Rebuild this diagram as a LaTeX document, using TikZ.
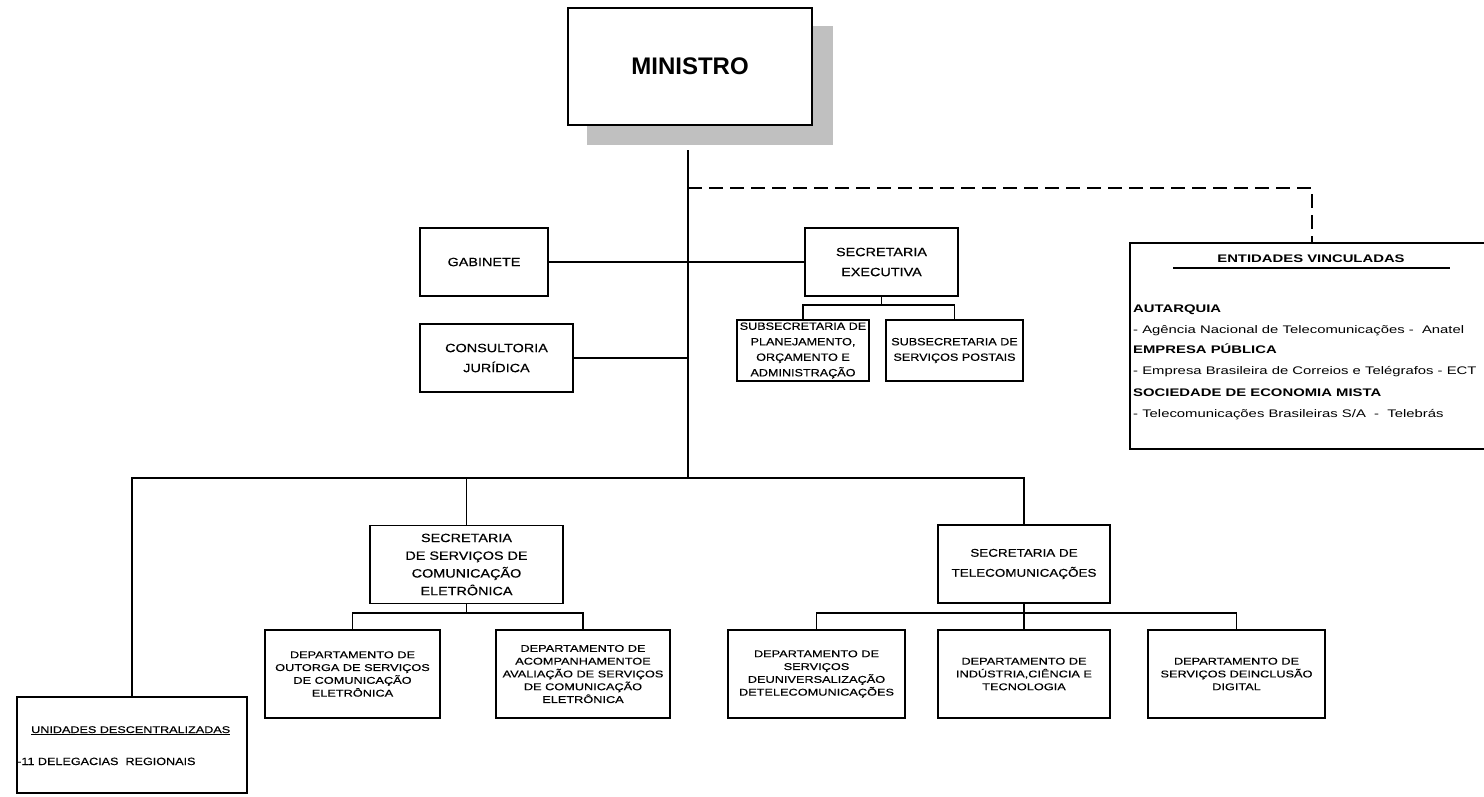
\documentclass[tikz,border=0pt]{standalone}
\usepackage{fontspec}
\setmainfont{Liberation Sans}
\newfontfamily\wa[FakeStretch=1.2,FakeBold=0.4]{Liberation Sans}
\newfontfamily\wb[FakeStretch=1.3,FakeBold=0.4]{Liberation Sans}
\newfontfamily\wc[FakeStretch=1.35]{Liberation Sans}
\definecolor{shadowgray}{HTML}{C0C0C0}
\tikzset{
 box/.style={draw, fill=white, line width=1.6pt, inner sep=0pt, align=center},
 conn/.style={line width=1.6pt},
 dconn/.style={line width=1.6pt, dash pattern=on 14pt off 7pt},
 bigtxt/.style={font=\wa\fontsize{12}{20}\selectfont},
 subtxt/.style={font=\wa\fontsize{10.5}{15.5}\selectfont},
 deptxt/.style={font=\wb\fontsize{9.8}{12.8}\selectfont},
 enttxt/.style={font=\wc\fontsize{11}{13}\selectfont, anchor=base west, inner sep=0pt},
 enthead/.style={font=\wc\bfseries\fontsize{11}{13}\selectfont, anchor=base west, inner sep=0pt},
}
\begin{document}
\begin{tikzpicture}[x=1pt,y=-1pt]
\useasboundingbox (0,0) rectangle (1484,796);
% MINISTRO with shadow
\fill[shadowgray] (587,26) rectangle (833,145);
\node[box, minimum width=244, minimum height=117, font=\bfseries\fontsize{24}{28}\selectfont] (min) at (690,66.5) {MINISTRO};
\coordinate (top) at (688,150);
\coordinate (dj) at (688,188);
\coordinate (bus) at (688,478);

% second level
\node[box,bigtxt, minimum width=128, minimum height=68] (gab) at (484,262) {GABINETE};
\node[box,bigtxt, minimum width=153, minimum height=68] (cons) at (496.5,358) {CONSULTORIA\\JURÍDICA};
\node[box,bigtxt, minimum width=153, minimum height=68] (se) at (881.5,262) {SECRETARIA\\EXECUTIVA};
\node[box,subtxt, minimum width=132, minimum height=61] (sub1) at (803,350.5) {SUBSECRETARIA DE\\PLANEJAMENTO,\\ORÇAMENTO E\\ADMINISTRAÇÃO};
\node[box,subtxt, minimum width=137, minimum height=61] (sub2) at (954.5,350.5) {SUBSECRETARIA DE\\SERVIÇOS POSTAIS};
\coordinate (sb0) at (881.5,305);

% Entidades vinculadas
\node[box, minimum width=364, minimum height=206] (ent) at (1312,346) {};
\node[enthead, anchor=base] (enth) at (1311,262) {ENTIDADES VINCULADAS};
\draw[line width=1.2pt] (1173,268) -- (1450,268);
\node[enthead] (e1) at (1133,312) {AUTARQUIA};
\node[enttxt] (e2) at (1133,333) {- Agência Nacional de Telecomunicações -\ \ Anatel};
\node[enthead] (e3) at (1133,353) {EMPRESA PÚBLICA};
\node[enttxt] (e4) at (1133,374) {- Empresa Brasileira de Correios e Telégrafos - ECT};
\node[enthead] (e5) at (1133,396) {SOCIEDADE DE ECONOMIA MISTA};
\node[enttxt] (e6) at (1133,417) {- Telecomunicações Brasileiras S/A\ \ -\ \ Telebrás};

% third level
\node[box, font=\wa\fontsize{12}{17.7}\selectfont, minimum width=193, minimum height=78] (ssce) at (466.5,564.5) {SECRETARIA\\DE SERVIÇOS DE\\COMUNICAÇÃO\\ELETRÔNICA};
\node[box, font=\wa\fontsize{11.2}{20}\selectfont, minimum width=172, minimum height=78] (stel) at (1024,564) {SECRETARIA DE\\TELECOMUNICAÇÕES};
\coordinate (sb1) at (466.5,613);
\coordinate (sb2) at (1024,613);

% departments
\node[box,deptxt, minimum width=175, minimum height=88] (d1) at (352.5,674) {DEPARTAMENTO DE\\OUTORGA DE SERVIÇOS\\DE COMUNICAÇÃO\\ELETRÔNICA};
\node[box,deptxt, minimum width=174, minimum height=88] (d2) at (583,674) {DEPARTAMENTO DE\\ACOMPANHAMENTOE\\AVALIAÇÃO DE SERVIÇOS\\DE COMUNICAÇÃO\\ELETRÔNICA};
\node[box,deptxt, minimum width=177, minimum height=88] (du) at (816.5,674) {DEPARTAMENTO DE\\SERVIÇOS\\DEUNIVERSALIZAÇÃO\\DETELECOMUNICAÇÕES};
\node[box,deptxt, minimum width=172, minimum height=88] (di) at (1024,674) {DEPARTAMENTO DE\\INDÚSTRIA,CIÊNCIA E\\TECNOLOGIA};
\node[box,deptxt, minimum width=177, minimum height=88] (dd) at (1236.5,674) {DEPARTAMENTO DE\\SERVIÇOS DEINCLUSÃO\\DIGITAL};

% unidades descentralizadas
\node[box, minimum width=230, minimum height=96] (unid) at (132,745) {};
\node[font=\wb\fontsize{9.7}{12}\selectfont, anchor=base west, inner sep=0pt] (u1) at (31,733) {\underline{UNIDADES DESCENTRALIZADAS}};
\node[font=\wa\fontsize{10.5}{12}\selectfont, anchor=base west, inner sep=0pt] (u2) at (17,765) {-11 DELEGACIAS\ \ REGIONAIS};

% connectors
\draw[conn] (top) -- (bus);
\draw[dconn] (dj) -| (ent.north);
\draw[conn] (gab.east) -- (se.west);
\draw[conn] (cons.east) -- (cons.east -| top);
\draw[conn] (se.south) -- (sb0);
\draw[conn] (sub1.north) |- (sb0) -| (sub2.north);
\draw[conn] (unid.north) |- (bus) -| (stel.north);
\draw[conn] (ssce.north) -- (ssce.north |- bus);
\draw[conn] (ssce.south) -- (sb1);
\draw[conn] (d1.north) |- (sb1) -| (d2.north);
\draw[conn] (stel.south) -- (sb2);
\draw[conn] (du.north) |- (sb2) -| (dd.north);
\draw[conn] (di.north) -- (sb2);
\end{tikzpicture}
\end{document}
